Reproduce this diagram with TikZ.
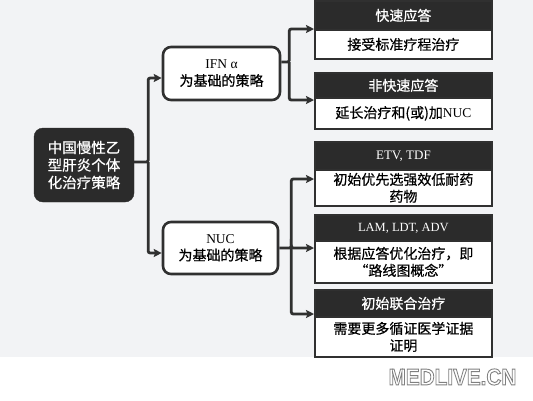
\documentclass[tikz,border=0pt]{standalone}
\usepackage{fontspec}
\setmainfont{Liberation Serif}
\newfontfamily\cjk[FakeBold=0.6]{Noto Sans CJK SC}
\newfontfamily\wmfont{Liberation Sans}
\usetikzlibrary{arrows.meta}
\definecolor{scanbg}{HTML}{F2F3F5}
\definecolor{dark}{HTML}{2B2B2B}
\definecolor{boxline}{HTML}{303030}
\tikzset{
  hdr/.style={draw=boxline, fill=dark, line width=1.8pt, minimum width=177pt,
    inner sep=0pt, text=white, anchor=north west, font=\cjk\fontsize{14}{17}\selectfont},
  bdy/.style={draw=boxline, fill=white, line width=1.8pt, minimum width=177pt,
    inner sep=0pt, text=black, align=center, anchor=north west, font=\cjk\fontsize{14}{17}\selectfont},
  midbox/.style={draw=boxline, fill=white, line width=2.6pt, rounded corners=8pt,
    inner sep=0pt, align=center, text=black, font=\cjk\fontsize{14}{17}\selectfont},
  rootbox/.style={fill=dark, draw=dark, rounded corners=9pt, inner sep=0pt,
    minimum width=100pt, minimum height=74pt, align=center, text=white,
    font=\cjk\fontsize{14.5}{17.5}\selectfont},
  conn/.style={draw=boxline, line width=2.8pt, rounded corners=2pt,
    -{Stealth[length=8pt,width=8pt,inset=1.5pt]}},
  wm/.style={font=\wmfont\bfseries\fontsize{23}{23}\selectfont, inner sep=0pt},
}
\begin{document}
\begin{tikzpicture}[x=1pt,y=-1pt]
\useasboundingbox (0,0) rectangle (533,400);
\fill[white] (0,0) rectangle (533,400);
\fill[scanbg] (0,0) rectangle (533,357);

% root
\node[rootbox] (root) at (84,165) {中国慢性乙\\型肝炎个体\\化治疗策略};

% middle strategy boxes
\node[midbox, minimum width=117pt, minimum height=53pt] (ifn) at (221.5,73.5)
  {{\rmfamily\fontsize{13.5}{15}\selectfont IFN α}\\为基础的策略};
\node[midbox, minimum width=115pt, minimum height=52pt] (nuc) at (220.5,248)
  {{\rmfamily\fontsize{13.5}{15}\selectfont NUC}\\为基础的策略};

% right boxes
\node[bdy, minimum height=29pt] (b1b) at (314,29) {接受标准疗程治疗};
\node[hdr, minimum height=29pt] (b1h) at (314,0) {快速应答};

\node[bdy, minimum height=31pt] (b2b) at (314,97) {延长治疗和(或)加{\rmfamily\fontsize{13.5}{15}\selectfont NUC}};
\node[hdr, minimum height=25pt] (b2h) at (314,72) {非快速应答};

\node[bdy, minimum height=36pt] (b3b) at (314,169) {初始优先选强效低耐药\\药物};
\node[hdr, minimum height=28pt, font=\rmfamily\fontsize{13}{15}\selectfont] (b3h) at (314,141) {ETV, TDF};

\node[bdy, minimum height=42pt] (b4b) at (314,240) {根据应答优化治疗，即\\“路线图概念”};
\node[hdr, minimum height=26pt, font=\rmfamily\fontsize{12.5}{15}\selectfont] (b4h) at (314,214) {LAM, LDT, ADV};

\node[bdy, minimum height=40pt] (b5b) at (314,316) {需要更多循证医学证据\\证明};
\node[hdr, minimum height=27pt] (b5h) at (314,289) {初始联合治疗};

% connectors
\draw[conn] ([yshift=3pt]root.east) -- ++(14pt,0) coordinate (rj) |- ([yshift=-4.5pt]ifn.west);
\draw[conn] (rj) |- ([yshift=-5pt]nuc.west);

\draw[conn] ([yshift=11.5pt]ifn.east) -- ++(8pt,0) coordinate (ij) |- (b1b.north west);
\draw[conn] (ij) |- ([yshift=-3pt]b2b.north west);

\draw[conn] (nuc.east) -- ++(12pt,0) coordinate (nj) |- ([yshift=-10pt]b3b.north west);
\draw[conn] (nj) |- ([yshift=-8pt]b4b.north west);
\draw[conn] (nj) |- ([yshift=2pt]b5b.north west);

% watermark (outlined letters)
\node[wm] (wm) at (452.5,377) {\scalebox{0.9}[1]{\color{white}\special{pdf:literal direct 0.5 G 0.9 w 2 Tr}MEDLIVE.CN\special{pdf:literal direct 0 Tr}}};
\end{tikzpicture}
\end{document}
